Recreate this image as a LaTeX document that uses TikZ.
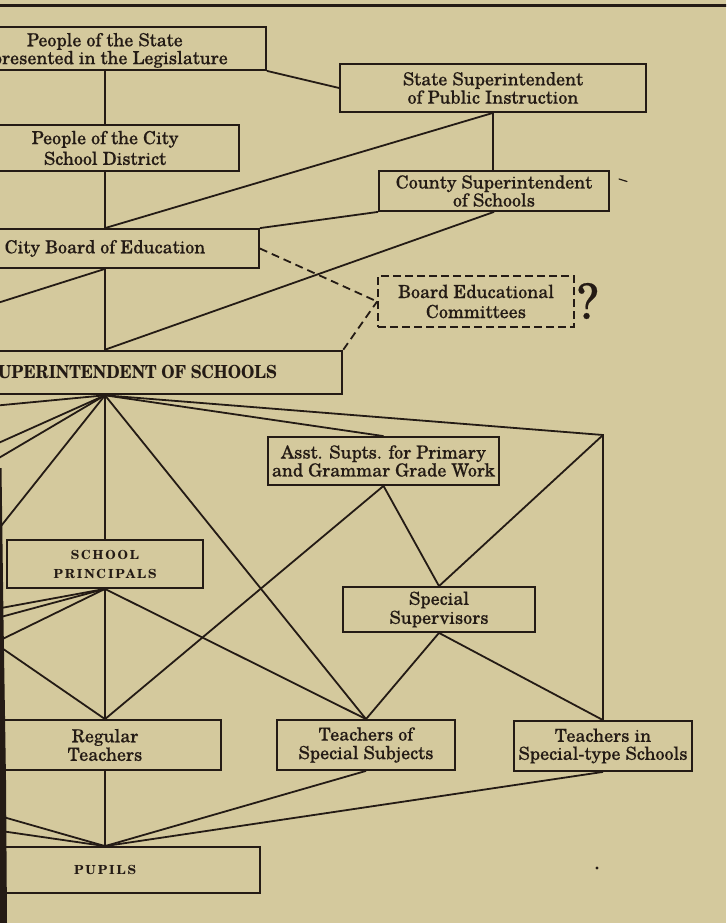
\documentclass[tikz,border=0pt]{standalone}
\usepackage{fontspec}
\setmainfont{texgyreschola}[Extension=.otf,UprightFont=*-regular,BoldFont=*-bold,ItalicFont=*-italic,BoldItalicFont=*-bolditalic,UprightFeatures={FakeBold=0.4}]
\newfontfamily\trackedbold{texgyreschola-bold.otf}[LetterSpace=15]
\usetikzlibrary{calc}
\definecolor{paper}{RGB}{212,201,157}
\definecolor{ink}{RGB}{36,27,21}
\newcommand\chartfont{\fontsize{18}{18.5}\selectfont}
\begin{document}
\begin{tikzpicture}[x=1pt,y=-1pt,
  box/.style={draw=ink,line width=1.8pt,inner sep=0pt,align=center,text=ink,font=\chartfont},
  lead/.style={font=\fontsize{18}{#1}\selectfont},
  words/.style={inner sep=0pt,text=ink,font=\chartfont},
  smallcaps/.style={font=\trackedbold\fontsize{12.5}{19}\selectfont},
  wire/.style={draw=ink,line width=1.8pt},
  dashwire/.style={draw=ink,line width=1.8pt,dash pattern=on 8pt off 5pt},
  dashbox/.style={box,dash pattern=on 8pt off 4pt}]
% page and frame
\fill[paper] (0,0) rectangle (726,923);
\useasboundingbox (0,0) rectangle (726,923);
\clip (0,0) rectangle (726,923);
\draw[ink,line width=3pt] (-5,5.5) -- (731,5.5);

% boxes
\node[box,minimum width=322,minimum height=43] (state) at (105,48.5) {};
\node[words,align=right,font=\fontsize{18}{16.3}\selectfont,anchor=east] (stateT) at (228,50.4)
  {People of the State\hspace*{45pt}\\presented in the Legislature};
\node[box,lead=20.7,minimum width=268,minimum height=46] (city) at (105,148) {People of the City\\School District};
\node[box,minimum width=308,minimum height=39] (board) at (105,248.5) {City Board of Education};
\node[box,line width=2.6pt,minimum width=474,minimum height=43] (sup) at (105,372.5) {};
\node[words,font=\bfseries\fontsize{18}{18}\selectfont,anchor=base east] (supT) at (277,378)
  {\scalebox{0.89}[1]{SUPERINTENDENT OF SCHOOLS}};
\node[box,lead=18.3,minimum width=306,minimum height=48] (ssup) at (493,88) {State Superintendent\\of Public Instruction};
\node[box,lead=18,minimum width=230,minimum height=40] (csup) at (494,191) {County Superintendent\\of Schools};
\node[dashbox,lead=20,minimum width=196,minimum height=51] (bec) at (476,301.5) {Board Educational\\Committees};
\node[words,font=\fontsize{48}{48}\selectfont] (qm) at (588,301) {?};
\node[box,lead=16,minimum width=231,minimum height=48] (asst) at (383.5,461) {Asst. Supts. for Primary\\and Grammar Grade Work};
\node[box,smallcaps,minimum width=196,minimum height=48] (sp) at (105,564) {SCHOOL\\PRINCIPALS};
\node[box,lead=19,minimum width=192,minimum height=45] (specsup) at (439,609.5) {Special\\Supervisors};
\node[box,lead=18.5,minimum width=232,minimum height=50] (rt) at (105,745) {Regular\\Teachers};
\node[box,lead=18.5,minimum width=178,minimum height=50] (toss) at (366,745) {Teachers of\\Special Subjects};
\node[box,lead=18,minimum width=178,minimum height=50] (tss) at (603,746) {Teachers in\\Special-type Schools};
\node[box,smallcaps,minimum width=310,minimum height=46] (pupils) at (105,870) {PUPILS};

% free ends of the lines running off the left edge
\coordinate (w1) at (-30,311.7);
\coordinate (w2) at (-30,408.1);
\coordinate (w3) at (-30,455.7);
\coordinate (w4) at (-30,475);
\coordinate (w5) at (-30,565);
\coordinate (w6) at (-30,613.7);
\coordinate (w7) at (-30,625.3);
\coordinate (w8) at (-30,654.9);
\coordinate (w9) at (-30,626.1);
\coordinate (w10) at (-30,807.5);
\coordinate (w11) at (-30,826.5);
\coordinate (crn) at (603,435);

% main spine
\draw[wire] (state.south) -- (city.north);
\draw[wire] (city.south) -- (board.north);
\draw[wire] (board.south) -- (sup.north);
\draw[wire] (sup.south) -- (sp.north);
\draw[wire] (sp.south) -- (rt.north);
\draw[wire] (rt.south) -- (pupils.north);

% state and county offices
\draw[wire] (state.south east) -- (ssup.west);
\draw[wire] (ssup.south) -- (board.north);
\draw[wire] (ssup.south) -- (ssup.south |- csup.north);
\draw[wire] (csup.south west) -- (board.north east);
\draw[wire] (csup.south) -- (sup.north);
\draw[dashwire] (board.east) -- (bec.west);
\draw[dashwire] (sup.north east) -- (bec.west);

% superintendent downwards
\draw[wire] (sup.south) -- (asst.north);
\draw[wire] (sup.south) -- (crn) -- (tss.north);
\draw[wire] (crn) -- (specsup.north);
\draw[wire] (sup.south) -- (toss.north);
\draw[wire] (asst.south) -- (specsup.north);
\draw[wire] (asst.south) -- (rt.north);
\draw[wire] (sp.south) -- (toss.north);
\draw[wire] (specsup.south) -- (toss.north);
\draw[wire] (specsup.south) -- (tss.north);
\draw[wire] (toss.south) -- (pupils.north);
\draw[wire] (tss.south) -- (pupils.north);

% lines to offices beyond the left edge
\draw[wire] (board.south) -- (w1);
\draw[wire] (sup.south) -- (w2);
\draw[wire] (sup.south) -- (w3);
\draw[wire] (sup.south) -- (w4);
\draw[wire] (sup.south) -- (w5);
\draw[wire] (sp.south) -- (w6);
\draw[wire] (sp.south) -- (w7);
\draw[wire] (sp.south) -- (w8);
\draw[wire] (rt.north) -- (w9);
\draw[wire] (pupils.north) -- (w10);
\draw[wire] (pupils.north) -- (w11);

% binding shadow along the left edge
\fill[ink] (-2,468) -- (1.5,468) -- (3.5,620) -- (6,780) -- (7,923) -- (-2,923) -- cycle;

% specks in the print
\fill[ink] (597,868) circle (1.6);
\draw[ink,line width=1.2pt,line cap=round] (619,179) -- (627,181.5);
\end{tikzpicture}
\end{document}
